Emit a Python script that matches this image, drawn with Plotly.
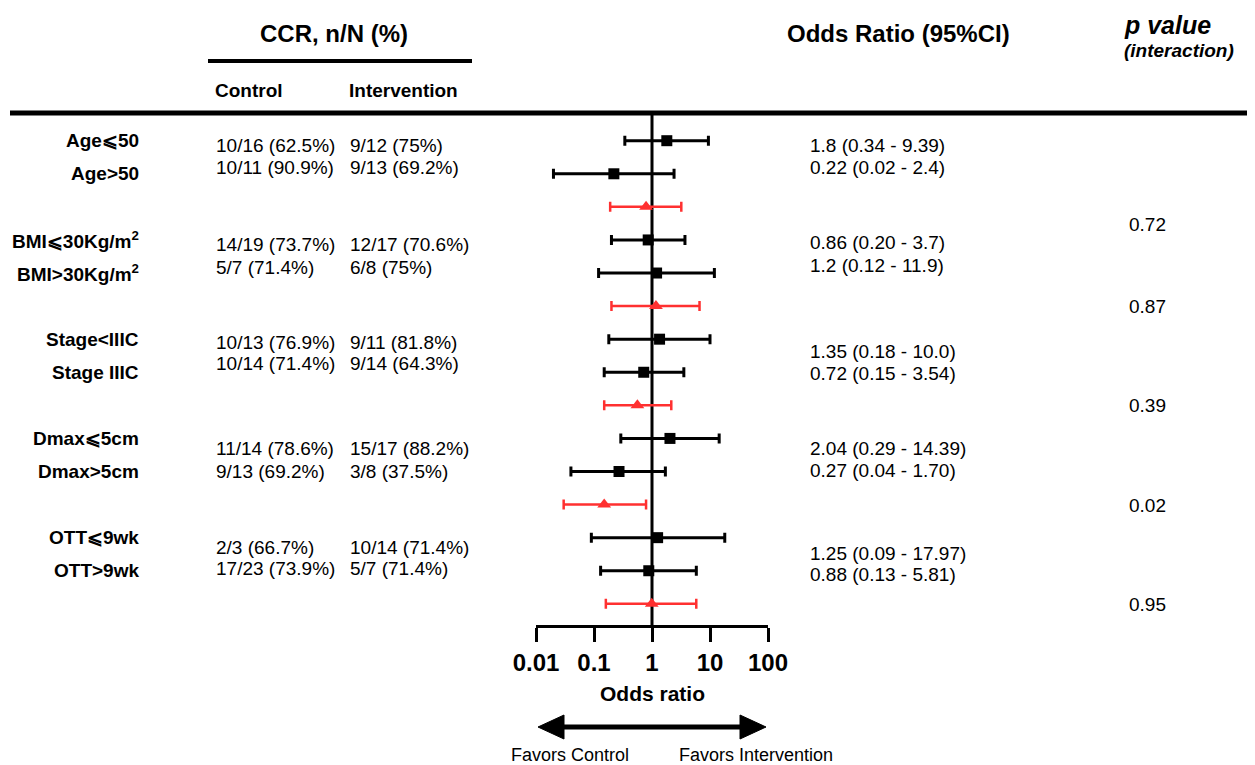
import plotly.graph_objects as go

# ---------------- data ----------------
subgroups = ["Age⩽50", "Age&gt;50",
             "BMI⩽30Kg/m<sup>2</sup>", "BMI&gt;30Kg/m<sup>2</sup>",
             "Stage&lt;IIIC", "Stage IIIC",
             "Dmax⩽5cm", "Dmax&gt;5cm",
             "OTT⩽9wk", "OTT&gt;9wk"]
control_counts = ["10/16 (62.5%)", "10/11 (90.9%)", "14/19 (73.7%)", "5/7 (71.4%)",
                  "10/13 (76.9%)", "10/14 (71.4%)", "11/14 (78.6%)", "9/13 (69.2%)",
                  "2/3 (66.7%)", "17/23 (73.9%)"]
intervention_counts = ["9/12 (75%)", "9/13 (69.2%)", "12/17 (70.6%)", "6/8 (75%)",
                       "9/11 (81.8%)", "9/14 (64.3%)", "15/17 (88.2%)", "3/8 (37.5%)",
                       "10/14 (71.4%)", "5/7 (71.4%)"]
or_est = [1.8, 0.22, 0.86, 1.2, 1.35, 0.72, 2.04, 0.27, 1.25, 0.88]
ci_low = [0.34, 0.02, 0.20, 0.12, 0.18, 0.15, 0.29, 0.04, 0.09, 0.13]
ci_high = [9.39, 2.4, 3.7, 11.9, 10.0, 3.54, 14.39, 1.70, 17.97, 5.81]
or_labels = ["1.8 (0.34 - 9.39)", "0.22 (0.02 - 2.4)", "0.86 (0.20 - 3.7)", "1.2 (0.12 - 11.9)",
             "1.35 (0.18 - 10.0)", "0.72 (0.15 - 3.54)", "2.04 (0.29 - 14.39)", "0.27 (0.04 - 1.70)",
             "1.25 (0.09 - 17.97)", "0.88 (0.13 - 5.81)"]
# interaction estimates (read from the red markers)
inter_or = [0.79, 1.17, 0.56, 0.15, 0.99]
inter_low = [0.19, 0.20, 0.15, 0.03, 0.16]
inter_high = [3.2, 6.6, 2.15, 0.79, 5.8]
p_values = ["0.72", "0.87", "0.39", "0.02", "0.95"]
tick_vals = [0.01, 0.1, 1, 10, 100]
tick_text = ["0.01", "0.1", "1", "10", "100"]

# ---------------- layout helpers ----------------
PAGE_W, PAGE_H = 1255, 765
OFF = 8  # default page body margin
W, H = PAGE_W - OFF, PAGE_H - OFF
FONT = "Liberation Sans, Arial, sans-serif"
ROW0, ROWSTEP = 140.7, 33.08
TOP, BOTTOM = 113, 625


def fx(p):
    return (p - OFF) / W


def fy(p):
    return 1 - (p - OFF) / H


def row_px(i):
    return ROW0 + ROWSTEP * i


main_rows = []
inter_rows = []
for g in range(5):
    main_rows += [3 * g, 3 * g + 1]
    inter_rows.append(3 * g + 2)

COUNT_Y = [145, 167, 245, 267, 342, 363, 448, 471, 547, 568]
OR_Y = [145, 167, 243, 265, 351, 373, 448, 470, 553, 574]
P_Y = [224, 306, 406, 505, 604]

fig = go.Figure()

# reference line at OR = 1
fig.add_trace(go.Scatter(
    x=[1, 1], y=[(TOP - ROW0) / ROWSTEP, (BOTTOM - ROW0) / ROWSTEP],
    mode="lines", line=dict(color="black", width=3), hoverinfo="skip",
    showlegend=False, cliponaxis=False))

fig.add_trace(go.Scatter(
    x=or_est, y=main_rows, mode="markers",
    marker=dict(symbol="square", size=11, color="black"),
    error_x=dict(type="data", symmetric=False,
                 array=[h - e for h, e in zip(ci_high, or_est)],
                 arrayminus=[e - l for e, l in zip(or_est, ci_low)],
                 color="black", thickness=3, width=5),
    showlegend=False, cliponaxis=False))

fig.add_trace(go.Scatter(
    x=inter_or, y=inter_rows, mode="markers",
    marker=dict(symbol="triangle-up", size=12, color="#ff3030"),
    error_x=dict(type="data", symmetric=False,
                 array=[h - e for h, e in zip(inter_high, inter_or)],
                 arrayminus=[e - l for e, l in zip(inter_or, inter_low)],
                 color="#ff3030", thickness=2.5, width=5),
    showlegend=False, cliponaxis=False))

ann = []


def text(x, y, s, size, bold=False, italic=False, anchor="left"):
    if bold:
        s = "<b>" + s + "</b>"
    if italic:
        s = "<i>" + s + "</i>"
    ann.append(dict(x=fx(x), y=fy(y), xref="paper", yref="paper", text=s,
                    showarrow=False, xanchor=anchor, yanchor="middle",
                    font=dict(family=FONT, size=size, color="black")))


# headers
text(334, 33, "CCR, n/N (%)", 24, bold=True, anchor="center")
text(213, 90, "Control", 19, bold=True)
text(347, 90, "Intervention", 19, bold=True)
text(898, 33, "Odds Ratio (95%CI)", 24, bold=True, anchor="center")
text(1122, 25, "p value", 25, bold=True, italic=True)
text(1122, 51, "(interaction)", 19, bold=True, italic=True)

for k in range(10):
    text(141, row_px(main_rows[k]), subgroups[k], 19, bold=True, anchor="right")
    text(214, COUNT_Y[k], control_counts[k], 19)
    text(348, COUNT_Y[k], intervention_counts[k], 19)
    text(808, OR_Y[k], or_labels[k], 19)
for g in range(5):
    text(1127, P_Y[g], p_values[g], 19)

text(652, 693, "Odds ratio", 21, bold=True, anchor="center")
text(570, 755, "Favors Control", 18, anchor="center")
text(756, 755, "Favors Intervention", 18, anchor="center")

shapes = [
    dict(type="line", xref="paper", yref="paper", x0=fx(10), x1=fx(1255), y0=fy(113), y1=fy(113),
         line=dict(color="black", width=5)),
    dict(type="line", xref="paper", yref="paper", x0=fx(208), x1=fx(472), y0=fy(61), y1=fy(61),
         line=dict(color="black", width=4)),
    dict(type="line", xref="paper", yref="paper", x0=fx(555), x1=fx(750), y0=fy(727), y1=fy(727),
         line=dict(color="black", width=5)),
    dict(type="path", xref="paper", yref="paper",
         path=f"M {fx(538)} {fy(727)} L {fx(564)} {fy(715)} L {fx(564)} {fy(739)} Z",
         fillcolor="black", line=dict(color="black", width=1)),
    dict(type="path", xref="paper", yref="paper",
         path=f"M {fx(766)} {fy(727)} L {fx(740)} {fy(715)} L {fx(740)} {fy(739)} Z",
         fillcolor="black", line=dict(color="black", width=1)),
]

fig.update_layout(
    width=W, height=H, autosize=False,
    margin=dict(l=0, r=0, t=0, b=0, pad=0, autoexpand=False),
    paper_bgcolor="white", plot_bgcolor="white",
    annotations=ann, shapes=shapes,
    xaxis=dict(type="log", range=[-2, 2], domain=[fx(536), fx(768)], automargin=False,
               showgrid=False, zeroline=False, showline=True, linecolor="black", linewidth=3,
               ticks="outside", ticklen=14, tickwidth=3, tickcolor="black",
               tickvals=tick_vals, ticktext=tick_text, ticklabelstandoff=0,
               tickfont=dict(family=FONT, size=24, color="black", weight="bold")),
    yaxis=dict(range=[(BOTTOM - ROW0) / ROWSTEP, (TOP - ROW0) / ROWSTEP], automargin=False,
               domain=[fy(BOTTOM), fy(TOP)], visible=False, showgrid=False, zeroline=False),
)

fig.write_html("out.html")
